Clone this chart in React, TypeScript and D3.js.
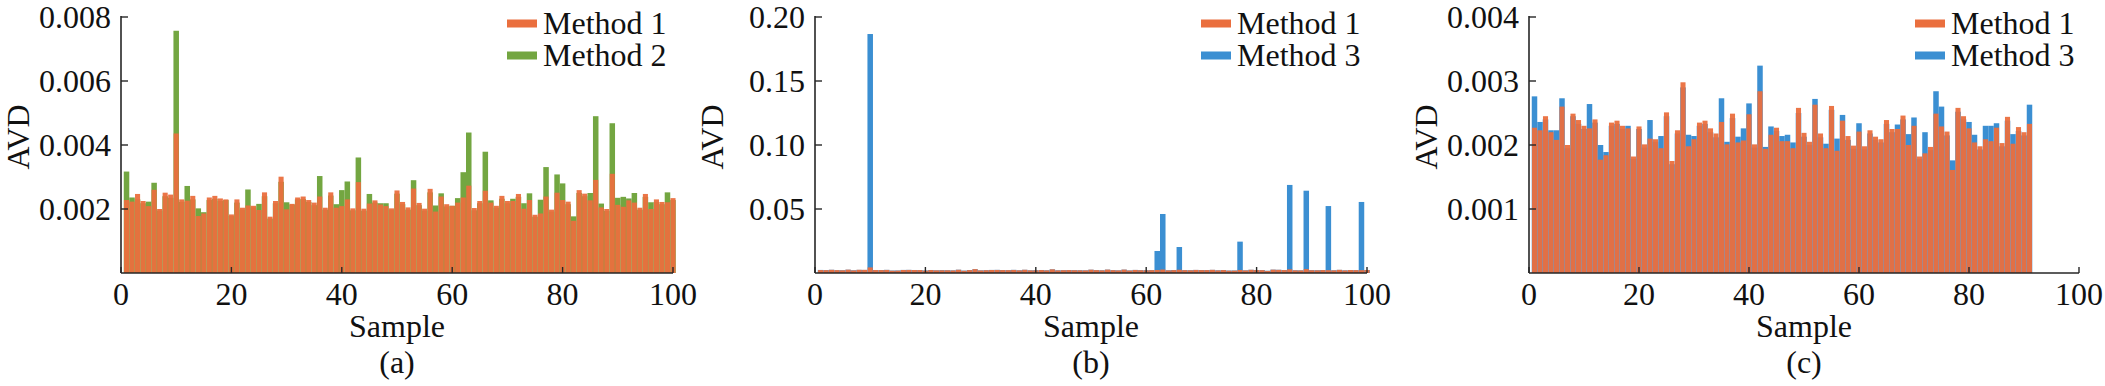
import React from 'react';
import * as d3 from 'd3';

// values are in units of 1e-3 (AVD), one per sample
const method1 = [
  2.28, 2.23, 2.47, 2.25, 2.09, 2.60, 2.00, 2.51, 2.45, 4.36,
  2.30, 2.26, 2.41, 1.78, 1.86, 2.36, 2.41, 2.33, 2.30, 1.83,
  2.30, 2.04, 2.11, 2.10, 1.97, 2.52, 1.76, 2.25, 3.01, 1.99,
  2.16, 2.36, 2.39, 2.28, 2.20, 2.39, 2.04, 2.52, 2.04, 2.09,
  2.30, 2.02, 2.84, 2.01, 2.17, 2.27, 2.14, 2.09, 2.02, 2.58,
  2.22, 2.05, 2.64, 2.19, 2.01, 2.63, 1.92, 2.39, 2.15, 2.10,
  2.20, 2.36, 2.73, 2.03, 2.25, 2.57, 2.20, 2.10, 2.41, 2.25,
  2.25, 2.47, 2.01, 2.28, 1.82, 1.86, 2.39, 1.98, 2.51, 2.28,
  2.23, 1.63, 2.59, 2.48, 2.27, 2.91, 2.05, 2.00, 3.10, 2.13,
  2.07, 2.27, 2.20, 2.04, 2.47, 2.00, 2.30, 2.22, 2.21, 2.34,
];

const method2 = [
  3.17, 2.36, 2.30, 2.18, 2.23, 2.82, 1.95, 2.40, 2.35, 7.57,
  2.22, 2.72, 2.30, 2.02, 1.90, 2.28, 2.32, 2.25, 2.28, 1.78,
  2.20, 1.98, 2.61, 2.05, 2.16, 2.40, 1.70, 2.18, 2.85, 2.21,
  2.14, 2.30, 2.31, 2.22, 2.12, 3.03, 1.98, 2.42, 2.15, 2.59,
  2.86, 1.96, 3.61, 1.95, 2.47, 2.20, 2.18, 2.18, 1.97, 2.48,
  2.15, 1.98, 2.90, 2.12, 1.95, 2.52, 2.11, 2.49, 2.08, 2.10,
  2.34, 3.15, 4.39, 1.96, 2.18, 3.79, 2.27, 2.04, 2.32, 2.18,
  2.32, 2.38, 2.18, 2.49, 1.76, 2.29, 3.31, 1.92, 3.08, 2.80,
  2.15, 1.77, 2.50, 2.40, 2.50, 4.90, 2.17, 1.94, 4.68, 2.35,
  2.38, 2.33, 2.50, 1.98, 2.38, 2.21, 2.22, 2.15, 2.52, 2.28,
];

const method3 = [
  2.40, 2.30, 2.52, 2.20, 2.15, 2.55, 2.10, 2.45, 2.40, 186.7,
  2.35, 2.30, 2.45, 1.90, 1.95, 2.40, 2.45, 2.35, 2.30, 1.95,
  2.35, 2.10, 2.20, 2.15, 2.05, 2.55, 1.85, 2.30, 2.90, 2.05,
  2.20, 2.40, 2.45, 2.30, 2.25, 2.45, 2.10, 2.50, 2.10, 2.15,
  2.35, 2.10, 2.80, 2.10, 2.20, 2.30, 2.20, 2.15, 2.05, 2.55,
  2.25, 2.10, 2.60, 2.20, 2.05, 2.60, 2.00, 2.40, 2.20, 2.15,
  2.25, 17.2, 46.1, 2.10, 2.30, 20.3, 2.25, 2.15, 2.40, 2.30,
  2.30, 2.45, 2.10, 2.30, 1.90, 1.95, 24.5, 2.05, 2.50, 2.30,
  2.25, 1.75, 2.60, 2.50, 2.30, 68.8, 2.10, 2.05, 64.3, 2.20,
  2.15, 2.30, 52.3, 2.10, 2.45, 2.05, 2.30, 2.25, 55.5, 2.35,
];

const method1c = [
  2.27, 2.23, 2.45, 2.20, 2.08, 2.60, 2.00, 2.49, 2.39, 2.30,
  2.26, 2.40, 1.77, 1.84, 2.35, 2.38, 2.30, 2.26, 1.82, 2.29,
  2.01, 2.10, 2.09, 1.95, 2.51, 1.75, 2.23, 2.98, 1.98, 2.09,
  2.35, 2.38, 2.26, 2.18, 2.36, 2.01, 2.49, 2.04, 2.07, 2.48,
  2.01, 2.84, 1.94, 2.16, 2.27, 2.06, 2.06, 1.95, 2.58, 2.19,
  2.05, 2.63, 2.18, 1.95, 2.61, 1.91, 2.38, 2.14, 1.99, 2.21,
  1.98, 2.23, 2.13, 2.09, 2.39, 2.25, 2.25, 2.46, 2.00, 2.30,
  1.82, 1.87, 1.97, 2.49, 2.29, 2.21, 1.61, 2.58, 2.45, 2.26,
  2.04, 1.98, 2.09, 2.06, 2.27, 2.03, 2.44, 2.02, 2.28, 2.20,
  2.33,
];

const method3c = [
  2.76, 2.36, 2.40, 2.23, 2.23, 2.73, 1.95, 2.45, 2.33, 2.25,
  2.64, 2.35, 2.00, 1.89, 2.30, 2.33, 2.25, 2.30, 1.78, 2.25,
  1.96, 2.39, 2.05, 2.14, 2.45, 1.70, 2.18, 2.90, 2.16, 2.14,
  2.30, 2.33, 2.20, 2.12, 2.73, 2.05, 2.42, 2.13, 2.26, 2.65,
  1.96, 3.24, 1.97, 2.29, 2.22, 2.14, 2.16, 2.04, 2.50, 2.13,
  2.00, 2.72, 2.12, 2.02, 2.55, 2.10, 2.47, 2.08, 1.94, 2.34,
  1.93, 2.18, 2.08, 2.04, 2.33, 2.20, 2.32, 2.40, 2.17, 2.43,
  1.78, 2.20, 1.92, 2.84, 2.60, 2.15, 1.76, 2.52, 2.40, 2.36,
  2.16, 1.93, 2.30, 2.30, 2.34, 1.98, 2.38, 2.17, 2.22, 2.15,
  2.63,
];

const xTicks = [0, 20, 40, 60, 80, 100];
const yTicksA = [0.002, 0.004, 0.006, 0.008];
const yTicksB = [0.05, 0.10, 0.15, 0.20];
const yTicksC = [0.001, 0.002, 0.003, 0.004];

const ORANGE = '#ea6f3e';
const GREEN = '#73a641';
const BLUE = '#3b8fd2';
const AXIS = '#262626';
const FONT = "'Liberation Serif', 'DejaVu Serif', serif";

const TOP = 17;
const BOTTOM = 273;

const panels = [
  { tag: '(a)', x0: 121, x1: 673, yMax: 0.008, yTicks: yTicksA, fmt: '.3f',
    front: method1, back: method2, backColor: GREEN, names: ['Method 1', 'Method 2'] },
  { tag: '(b)', x0: 815, x1: 1367, yMax: 0.2, yTicks: yTicksB, fmt: '.2f',
    front: method1, back: method3, backColor: BLUE, names: ['Method 1', 'Method 3'] },
  { tag: '(c)', x0: 1529, x1: 2079, yMax: 0.004, yTicks: yTicksC, fmt: '.3f',
    front: method1c, back: method3c, backColor: BLUE, names: ['Method 1', 'Method 3'] },
];

const Panel = ({ p }: { p: typeof panels[number] }) => {
  const x = d3.scaleLinear().domain([0, 100]).range([p.x0, p.x1]);
  const y = d3.scaleLinear().domain([0, p.yMax]).range([BOTTOM, TOP]);
  const step = x(1) - x(0);
  const fmt = d3.format(p.fmt);
  const cx = (p.x0 + p.x1) / 2;
  const back = p.back.map(v => v * 1e-3);
  const front = p.front.map(v => v * 1e-3);

  return (
    <g>
      {back.map((v, i) => (
        <rect key={'b' + i} x={x(i + 1) - step / 2} width={step} y={y(v)} height={BOTTOM - y(v)}
          fill={p.backColor} />
      ))}
      {front.map((v, i) => (
        <rect key={'f' + i} x={x(i + 1) - step * 0.46} width={step * 0.92} y={y(v)} height={BOTTOM - y(v)}
          fill={ORANGE} fillOpacity={0.95} />
      ))}

      <line x1={p.x0} x2={p.x0} y1={TOP - 1} y2={BOTTOM} stroke={AXIS} strokeWidth={1.6} />
      <line x1={p.x0} x2={p.x1} y1={BOTTOM} y2={BOTTOM} stroke={AXIS} strokeWidth={1.6} />

      {p.yTicks.map(t => (
        <g key={'y' + t}>
          <line x1={p.x0} x2={p.x0 + 7} y1={y(t)} y2={y(t)} stroke={AXIS} strokeWidth={1.4} />
          <text x={p.x0 - 10} y={y(t)} dy="0.34em" textAnchor="end">
            {fmt(t)}
          </text>
        </g>
      ))}
      {xTicks.map(t => (
        <g key={'x' + t}>
          <line x1={x(t)} x2={x(t)} y1={BOTTOM} y2={BOTTOM - 6} stroke={AXIS} strokeWidth={1.4} />
          <text x={x(t)} y={305} textAnchor="middle">{t}</text>
        </g>
      ))}

      <text x={cx} y={337} textAnchor="middle">Sample</text>
      <text x={cx} y={373} textAnchor="middle">{p.tag}</text>
      <text transform={`translate(${p.x0 - 92}, ${(TOP + BOTTOM) / 2 - 8}) rotate(-90)`} textAnchor="middle">AVD</text>

      {p.names.map((name, i) => (
        <g key={name} transform={`translate(${p.x0 + 386}, ${23.5 + i * 32})`}>
          <rect x={0} y={-4} width={30} height={8} fill={i === 0 ? ORANGE : p.backColor} />
          <text x={36} y={0} dy="0.34em">{name}</text>
        </g>
      ))}
    </g>
  );
};

export default function App() {
  return (
    <div style={{ position: 'absolute', left: 0, top: 0 }}>
      <svg width={2105} height={386} fontFamily={FONT} fontSize={32} fill="#111"
        style={{ display: 'block', background: '#fff' }}>
        {panels.map(p => <Panel key={p.tag} p={p} />)}
      </svg>
    </div>
  );
}
